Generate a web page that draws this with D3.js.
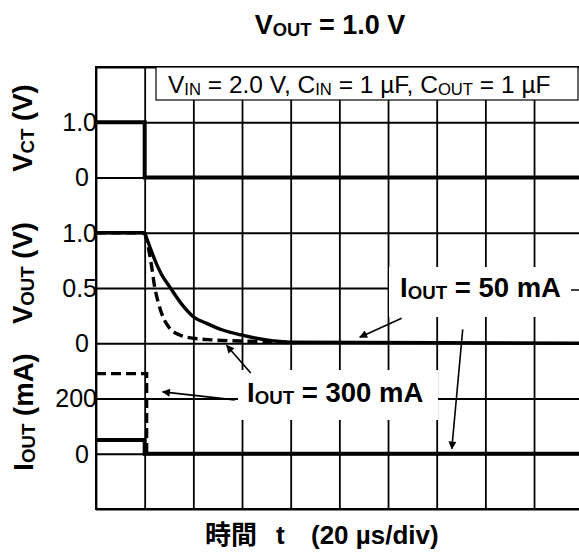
<!DOCTYPE html>
<html>
<head>
<meta charset="utf-8">
<script src="https://cdn.jsdelivr.net/npm/d3@7"></script>
<style>
  body { margin: 0; background: #fff; }
  svg { display: block; font-family: "Liberation Sans", Arial, "Noto Sans CJK JP", sans-serif; }
</style>
</head>
<body>
<svg id="chart"></svg>
<script>
// time grid, µs (20 µs/div), and the 8 row divisions of the scope screen
const timeDivs = [-20, 0, 20, 40, 60, 80, 100, 120, 140, 160, 180];
const rowDivs = [0, 1, 2, 3, 4, 5, 6, 7, 8];

// tick labels per panel
const vctTicks = [0, 1];
const vctTickLabels = ["0", "1.0"];
const voutTicks = [0, 0.5, 1];
const voutTickLabels = ["0", "0.5", "1.0"];
const ioutTicks = [0, 200];
const ioutTickLabels = ["0", "200"];

// VCT (V)
const vctTime = [-20, 0, 0, 180];
const vctValue = [1, 1, 0, 0];

// VOUT (V), IOUT = 50 mA (solid) and 300 mA (dashed)
const vout50Time = [-20, 0, 2, 4.8, 7, 10.3, 15.7, 20, 25.5, 32, 40, 50, 60, 180];
const vout50Value = [1, 1, 0.88, 0.72, 0.62, 0.51, 0.34, 0.24, 0.18, 0.12, 0.073, 0.03, 0.01, 0];
const vout300Time = [-20, 0, 1.4, 2.7, 4.1, 5.5, 7.5, 10.3, 14.4, 20, 28, 39, 55, 62];
const vout300Value = [1, 1, 0.875, 0.72, 0.51, 0.375, 0.24, 0.135, 0.075, 0.045, 0.03, 0.02, 0.01, 0.005];

// IOUT (mA)
const iout50Time = [-20, 0, 0, 180];
const iout50Value = [50, 50, 0, 0];
const iout300Time = [-20, 0.8, 0.8];
const iout300Value = [290, 290, 0];

const W = 579, H = 553;
const plot = { left: 96, top: 67, width: 486.7, height: 442 };

const svg = d3.select("#chart").attr("width", W).attr("height", H);

const x = d3.scaleLinear().domain([-20, 180]).range([plot.left, plot.left + plot.width]);
const row = d3.scaleLinear().domain([0, 8]).range([plot.top, plot.top + plot.height]);
const yVct = d3.scaleLinear().domain([0, 1]).range([row(2), row(1)]);
const yVout = d3.scaleLinear().domain([0, 1]).range([row(5), row(3)]);
const yIout = d3.scaleLinear().domain([0, 200]).range([row(7), row(6)]);

const zip = (ts, vs) => ts.map((t, i) => ({ t: t, v: vs[i] }));

// add text made of normal and subscript parts
function richText(sel, parts) {
    parts.forEach((p, i) => {
        const prevSub = i > 0 && parts[i - 1].sub;
        sel.append("tspan")
            .attr("font-size", p.sub ? "0.68em" : null)
            .attr("dy", p.sub ? 2 : (prevSub ? -2 : null))
            .text(p.t);
    });
    return sel;
}

// grid
svg.append("g")
    .attr("transform", `translate(0,${row(8)})`)
    .call(d3.axisBottom(x).tickValues(timeDivs).tickSize(-plot.height).tickFormat(""))
    .call(g => g.select(".domain").remove())
    .call(g => g.selectAll("line").attr("stroke", "#000").attr("stroke-width", 1.8));

svg.append("g")
    .attr("transform", `translate(${plot.left},0)`)
    .call(d3.axisLeft(row).tickValues(rowDivs).tickSize(-plot.width).tickFormat(""))
    .call(g => g.select(".domain").remove())
    .call(g => g.selectAll("line").attr("stroke", "#000").attr("stroke-width", 1.8));

svg.append("rect")
    .attr("x", plot.left).attr("y", plot.top)
    .attr("width", plot.width).attr("height", plot.height)
    .attr("fill", "none").attr("stroke", "#000").attr("stroke-width", 2);

// conditions box
svg.append("rect")
    .attr("x", 156).attr("y", plot.top)
    .attr("width", 422).attr("height", 33)
    .attr("fill", "#fff").attr("stroke", "#000").attr("stroke-width", 1.2);

richText(svg.append("text").attr("x", 168).attr("y", 93).attr("font-size", 24.5), [
    { t: "V" }, { t: "IN", sub: true }, { t: " = 2.0 V, C" }, { t: "IN", sub: true },
    { t: " = 1 \u00b5F, C" }, { t: "OUT", sub: true }, { t: " = 1 \u00b5F" }
]);

// tick labels
function tickLabels(scale, values, labels) {
    svg.append("g")
        .selectAll("text")
        .data(values)
        .join("text")
        .attr("x", d => plot.left + (d === 0 ? -7 : 1))
        .attr("y", d => scale(d))
        .attr("dy", "0.35em")
        .attr("text-anchor", "end")
        .attr("font-size", 25)
        .attr("fill", "#000")
        .text((d, i) => labels[i]);
}
tickLabels(yVct, vctTicks, vctTickLabels);
tickLabels(yVout, voutTicks, voutTickLabels);
tickLabels(yIout, ioutTicks, ioutTickLabels);

// traces
const lineOf = y => d3.line().x(d => x(d.t)).y(d => y(d.v));

svg.append("path")
    .attr("d", lineOf(yVct)(zip(vctTime, vctValue)))
    .attr("fill", "none").attr("stroke", "#000").attr("stroke-width", 4);

function decay(times, values, dash) {
    const pts = zip(times, values);
    const g = svg.append("g")
        .attr("fill", "none").attr("stroke", "#000").attr("stroke-width", 3.4)
        .attr("stroke-dasharray", dash);
    g.append("path").attr("d", lineOf(yVout)(pts.filter(d => d.t <= 0)));
    g.append("path").attr("d", lineOf(yVout).curve(d3.curveMonotoneX)(pts.filter(d => d.t >= 0)));
}
decay(vout50Time, vout50Value, null);
decay(vout300Time, vout300Value, "10,5");

svg.append("path")
    .attr("d", lineOf(yIout)(zip(iout50Time, iout50Value)))
    .attr("fill", "none").attr("stroke", "#000").attr("stroke-width", 4);
svg.append("path")
    .attr("d", lineOf(yIout)(zip(iout300Time, iout300Value)))
    .attr("fill", "none").attr("stroke", "#000").attr("stroke-width", 3.4)
    .attr("stroke-dasharray", "10,5");

// annotation labels on white patches
svg.append("rect").attr("x", 389).attr("y", 267).attr("width", 200).attr("height", 50).attr("fill", "#fff");
svg.append("rect").attr("x", 238).attr("y", 370).attr("width", 200).attr("height", 50).attr("fill", "#fff");

richText(svg.append("text").attr("x", 400).attr("y", 297)
    .attr("font-size", 27.5).attr("font-weight", "bold"),
    [{ t: "I" }, { t: "OUT", sub: true }, { t: " = 50 mA" }]);
richText(svg.append("text").attr("x", 247).attr("y", 402)
    .attr("font-size", 27.5).attr("font-weight", "bold"),
    [{ t: "I" }, { t: "OUT", sub: true }, { t: " = 300 mA" }]);

svg.append("line").attr("x1", 571).attr("x2", 581).attr("y1", 290).attr("y2", 290)
    .attr("stroke", "#000").attr("stroke-width", 1.5);

// arrows (from, to) in data coordinates of the panel they point into
svg.append("defs").append("marker")
    .attr("id", "head").attr("viewBox", "0 0 10 10")
    .attr("refX", 9).attr("refY", 5)
    .attr("markerWidth", 10).attr("markerHeight", 8)
    .attr("markerUnits", "userSpaceOnUse")
    .attr("orient", "auto")
    .append("path").attr("d", "M0,0 L10,5 L0,10 Z").attr("fill", "#000");

const arrows = [
    { y: yVout, from: [105.6, 0.227], to: [88.4, 0.055] },
    { y: yIout, from: [130.7, 450], to: [126.2, 18] },
    { y: yIout, from: [37, 195], to: [7.4, 224] },
    { y: yVout, from: [43.6, -0.27], to: [33.7, -0.02] }
];
arrows.forEach(a => {
    svg.append("line")
        .attr("x1", x(a.from[0])).attr("y1", a.y(a.from[1]))
        .attr("x2", x(a.to[0])).attr("y2", a.y(a.to[1]))
        .attr("stroke", "#000").attr("stroke-width", 1.6)
        .attr("marker-end", "url(#head)");
});

// titles
richText(svg.append("text").attr("x", 330).attr("y", 34)
    .attr("text-anchor", "middle").attr("font-size", 27).attr("font-weight", "bold"),
    [{ t: "V" }, { t: "OUT", sub: true }, { t: " = 1.0 V" }]);

const yTitles = [
    { parts: [{ t: "V" }, { t: "CT", sub: true }, { t: " (V)" }], cx: 32, cy: 128 },
    { parts: [{ t: "V" }, { t: "OUT", sub: true }, { t: " (V)" }], cx: 32, cy: 273 },
    { parts: [{ t: "I" }, { t: "OUT", sub: true }, { t: " (mA)" }], cx: 33, cy: 412 }
];
yTitles.forEach(d => {
    richText(svg.append("text")
        .attr("transform", `translate(${d.cx},${d.cy}) rotate(-90)`)
        .attr("text-anchor", "middle").attr("font-size", 27.5).attr("font-weight", "bold"), d.parts);
});

const xTitle = svg.append("text")
    .attr("y", 544)
    .attr("font-size", 26).attr("font-weight", "bold");
xTitle.append("tspan").attr("x", 205).text("時間");
xTitle.append("tspan").attr("x", 276).text("t");
xTitle.append("tspan").attr("x", 311).text("(20 \u00b5s/div)");
</script>
</body>
</html>
